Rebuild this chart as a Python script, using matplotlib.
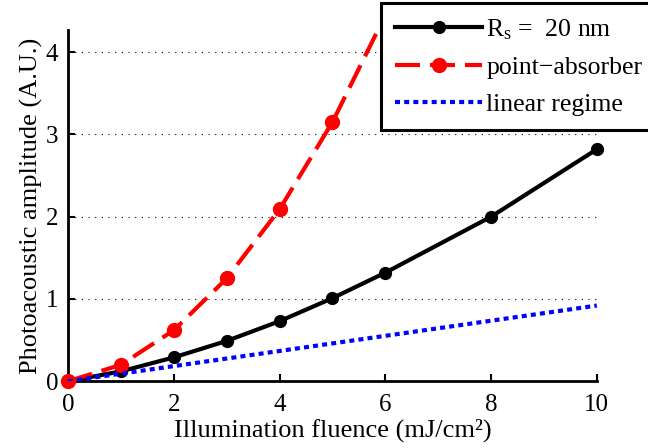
import numpy as np
import matplotlib
matplotlib.use('Agg')
import matplotlib.pyplot as plt

plt.rcParams['font.family'] = ['Liberation Serif', 'DejaVu Serif']
plt.rcParams['mathtext.fontset'] = 'custom'
plt.rcParams['mathtext.rm'] = 'Liberation Serif'
plt.rcParams['mathtext.it'] = 'Liberation Serif:italic'

# data
x_rs = [0, 1, 2, 3, 4, 5, 6, 8, 10]
y_rs = [0, 0.12, 0.29, 0.49, 0.73, 1.01, 1.32, 2.0, 2.82]
x_pa = [0, 1, 2, 3, 4, 5, 6]
y_pa = [0, 0.2, 0.62, 1.25, 2.09, 3.15, 4.45]
x_lin = [0, 10]
y_lin = [0, 0.92]

ymax = 4.27

fig = plt.figure(figsize=(6.48, 4.48), dpi=100)
ax = fig.add_axes([0.105, 0.149, 0.816, 0.784])

l1, = ax.plot(x_rs, y_rs, '-', color='black', lw=3, marker='o', ms=8.5,
              clip_on=False, zorder=3, label=r'R$_\mathrm{s}$ =  20 nm')
# red line is clipped at the top of the axes, the markers are not
ax.plot(x_pa, y_pa, color='red', lw=3, dashes=(6, 2.4), zorder=4)
xa = np.array(x_pa)
ya = np.array(y_pa)
inside = ya <= ymax
ax.plot(xa[inside], ya[inside], ls='none', color='red', marker='o', ms=10,
        clip_on=False, zorder=4)
l2, = ax.plot([], [], color='red', lw=3, marker='o', ms=10,
              dashes=(6, 2.4), label='point\u2212absorber')
l3, = ax.plot(x_lin, y_lin, color='blue', lw=3, dashes=(1.2, 1.0),
              zorder=5, label='linear regime')

ax.set_xlim(0, 10)
ax.set_ylim(0, ymax)
ax.set_xticks([0, 2, 4, 6, 8, 10])
ax.set_yticks([0, 1, 2, 3, 4])
ax.yaxis.grid(True, linestyle=(0, (1, 5)), color='black', lw=0.8)
ax.set_axisbelow(True)

for s in ['top', 'right']:
    ax.spines[s].set_visible(False)
for s in ['left', 'bottom']:
    ax.spines[s].set_linewidth(2)
ax.tick_params(direction='in', length=5, width=1.5, labelsize=18)
ax.tick_params(axis='x', pad=9)
ax.tick_params(axis='y', pad=7)

ax.set_xlabel('Illumination fluence (mJ/cm\u00b2)', fontsize=19, labelpad=2)
ax.set_ylabel('Photoacoustic amplitude (A.U.)', fontsize=19, labelpad=2)

leg = fig.legend(handles=[l1, l2, l3], loc='upper left',
                 bbox_to_anchor=(381 / 648, 1 - 3 / 448), fontsize=18.5,
                 frameon=True, fancybox=False, framealpha=1, handlelength=3.4,
                 borderpad=0.55, labelspacing=0.55, handletextpad=0.15,
                 borderaxespad=0)
leg.get_frame().set_edgecolor('black')
leg.get_frame().set_linewidth(2.2)
leg.set_zorder(10)

fig.savefig('out.png', dpi=100)
